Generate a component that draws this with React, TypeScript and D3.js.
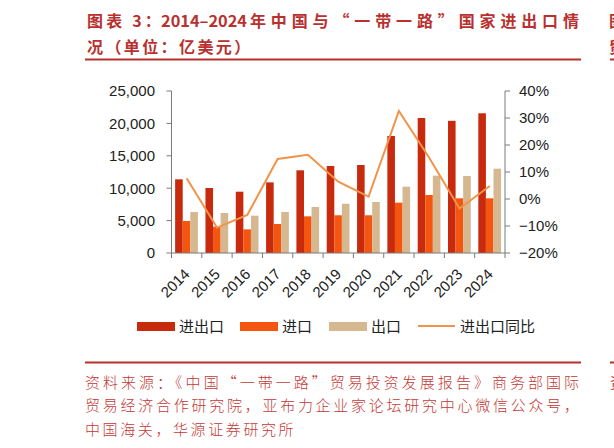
import * as d3 from 'd3';

// 亿美元
const years = ['2014', '2015', '2016', '2017', '2018', '2019', '2020', '2021', '2022', '2023', '2024'];
const totalTrade = [11370, 10030, 9460, 10900, 12760, 13430, 13580, 18060, 20830, 20400, 21560];
const imports = [4940, 4060, 3650, 4475, 5660, 5820, 5820, 7765, 8950, 8440, 8440];
const exports = [6330, 6170, 5760, 6330, 7100, 7600, 7870, 10230, 11930, 11880, 13010];
// %
const yoy = [7.7, -10.6, -5.9, 14.8, 16.4, 6.4, 0.9, 32.6, 15.3, -3.5, 4.8];

const leftTicks = [0, 5000, 10000, 15000, 20000, 25000];
const rightTicks = [-20, -10, 0, 10, 20, 30, 40];

const seriesKeys = ['total', 'imp', 'exp'];
const seriesNames = ['进出口', '进口', '出口', '进出口同比'];
const colors = ['#c72a0c', '#f5560f', '#d5b790', '#f2934a'];

const titleParts = ['图表 3：', '2014–2024', '年中国与“一带一路”国家进出口情'];
const titleLine2 = '况（单位：亿美元）';
const sourceLines = [
  '资料来源：《中国“一带一路”贸易投资发展报告》商务部国际',
  '贸易经济合作研究院，亚布力企业家论坛研究中心微信公众号，',
  '中国海关，华源证券研究所',
];

const RED = '#b8312f';
const SRC_RED = '#c23a36';
const AXIS = '#7a7a7a';
const NUM_FONT = '"Liberation Sans", Arial, sans-serif';
const CJK_FONT = '"Noto Sans CJK SC", "Noto Sans", sans-serif';

export default function App() {
  const width = 614;
  const height = 448;
  const plot = { left: 171.5, right: 505, top: 91, bottom: 253 };

  const x = d3.scaleBand<string>().domain(years).range([plot.left, plot.right]).paddingInner(0).paddingOuter(0);
  const bw = x.bandwidth();
  const xs = d3.scaleBand<string>().domain(seriesKeys).range([bw * 0.12, bw * 0.87]);
  const yL = d3.scaleLinear().domain([0, 25000]).range([plot.bottom, plot.top]);
  const yR = d3.scaleLinear().domain([-20, 40]).range([plot.bottom, plot.top]);

  const seriesData = [totalTrade, imports, exports];

  const line = d3.line<number>()
    .x((_, i) => (x(years[i]) as number) + bw / 2)
    .y(d => yR(d));

  const fmtL = d3.format(',');
  const fmtR = (v: number) => `${v < 0 ? '−' : ''}${Math.abs(v)}%`;

  // legend layout
  const legendX = [137, 240, 329, 418];

  const titleStyle = { fill: RED, fontFamily: CJK_FONT, fontWeight: 'bold' as const, fontSize: 16 };

  return (
    <svg width={width} height={height} style={{ position: 'absolute', left: 0, top: 0, background: '#fff' }}>
      {/* title */}
      <text x={87} y={27} {...titleStyle} letterSpacing={3.2}>{titleParts[0]}</text>
      <text x={161} y={27} {...titleStyle} textLength={86} lengthAdjust="spacingAndGlyphs">{titleParts[1]}</text>
      <text x={250} y={27} {...titleStyle} textLength={329} lengthAdjust="spacing">{titleParts[2]}</text>
      <text x={87} y={53} {...titleStyle} letterSpacing={2.4}>{titleLine2}</text>
      <line x1={85} x2={581} y1={59.5} y2={59.5} stroke={RED} strokeWidth={2} />
      {/* neighbour column fragments */}
      <text x={609} y={27} {...titleStyle}>图</text>
      <text x={609} y={53} {...titleStyle}>贸</text>
      <line x1={610} x2={614} y1={59.5} y2={59.5} stroke={RED} strokeWidth={2} />

      {/* bars */}
      {seriesData.map((vals, s) => (
        <g key={seriesKeys[s]} fill={colors[s]}>
          {vals.map((v, i) => (
            <rect key={years[i]}
              x={(x(years[i]) as number) + (xs(seriesKeys[s]) as number)}
              y={yL(v)}
              width={xs.bandwidth()}
              height={yL(0) - yL(v)} />
          ))}
        </g>
      ))}

      {/* yoy line */}
      <path d={line(yoy) || ''} fill="none" stroke={colors[3]} strokeWidth={2} />

      {/* left axis */}
      <line x1={plot.left} x2={plot.left} y1={plot.top} y2={plot.bottom} stroke={AXIS} />
      {leftTicks.map(t => (
        <g key={t}>
          <line x1={plot.left - 5} x2={plot.left} y1={yL(t)} y2={yL(t)} stroke={AXIS} />
          <text x={155} y={yL(t)} dy="0.36em" textAnchor="end" fontFamily={NUM_FONT} fontSize={15} fill="#222">{fmtL(t)}</text>
        </g>
      ))}

      {/* right axis */}
      <line x1={plot.right} x2={plot.right} y1={plot.top} y2={plot.bottom} stroke={AXIS} />
      {rightTicks.map(t => (
        <g key={t}>
          <line x1={plot.right} x2={plot.right + 5} y1={yR(t)} y2={yR(t)} stroke={AXIS} />
          <text x={519} y={yR(t)} dy="0.36em" fontFamily={NUM_FONT} fontSize={15} fill="#222">{fmtR(t)}</text>
        </g>
      ))}

      {/* bottom axis */}
      <line x1={plot.left} x2={plot.right} y1={plot.bottom} y2={plot.bottom} stroke={AXIS} />
      {years.map(yr => (
        <line key={'t' + yr} x1={x(yr) as number} x2={x(yr) as number} y1={plot.bottom} y2={plot.bottom + 5} stroke={AXIS} />
      ))}
      <line x1={plot.right} x2={plot.right} y1={plot.bottom} y2={plot.bottom + 5} stroke={AXIS} />
      {years.map(yr => {
        const cx = (x(yr) as number) + bw / 2 + 4;
        const cy = 275;
        return (
          <text key={'l' + yr} transform={`translate(${cx},${cy}) rotate(-45)`} textAnchor="end"
            fontFamily={NUM_FONT} fontSize={15} fill="#222">{yr}</text>
        );
      })}

      {/* legend */}
      {legendX.map((lx, i) => (
        <g key={seriesNames[i]}>
          {i < 3
            ? <rect x={lx} y={322} width={38} height={9} fill={colors[i]} />
            : <line x1={lx} x2={lx + 37} y1={326} y2={326} stroke={colors[3]} strokeWidth={2} />}
          <text x={lx + 42} y={331.5} fontFamily={CJK_FONT} fontSize={15} fill="#222">{seriesNames[i]}</text>
        </g>
      ))}

      {/* source */}
      <line x1={85} x2={581} y1={362.5} y2={362.5} stroke={RED} strokeWidth={2} />
      <line x1={610} x2={614} y1={362.5} y2={362.5} stroke={RED} strokeWidth={2} />
      {sourceLines.map((s, i) => (
        <text key={i} x={85} y={387.5 + i * 23.5} fill={SRC_RED} fontFamily={CJK_FONT} fontSize={15}
          fontWeight={300}
          {...(i < 2 ? { textLength: 494, lengthAdjust: 'spacing' } : { letterSpacing: 2.6 })}>{s}</text>
      ))}
      <text x={610} y={387.5} fill={SRC_RED} fontFamily={CJK_FONT} fontSize={15}>资</text>
    </svg>
  );
}
